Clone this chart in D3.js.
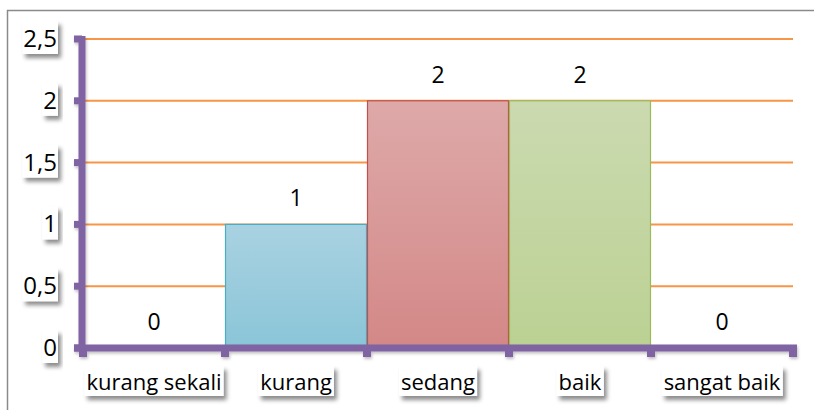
<!DOCTYPE html>
<html>
<head>
<meta charset="utf-8">
<script src="https://cdn.jsdelivr.net/npm/d3@7"></script>
<style>
  body { margin: 0; background: #fff; }
  text { font-family: "Open Sans", sans-serif; fill: #000; }
</style>
</head>
<body>
<div id="chart"></div>
<script>
// data
var categories = ["kurang sekali", "kurang", "sedang", "baik", "sangat baik"];
var values = [0, 1, 2, 2, 0];
var yTicks = [0, 0.5, 1, 1.5, 2, 2.5];
var yTickLabels = ["0", "0,5", "1", "1,5", "2", "2,5"];

// office-like palette per bar: [top, bottom, stroke]
var palette = [
  ["#a9d2e1", "#8ac5d8", "#4bacc6"],
  ["#a9d2e1", "#8ac5d8", "#4bacc6"],
  ["#dea9a9", "#d38887", "#c0504d"],
  ["#cbdab0", "#bbd193", "#9bbb59"],
  ["#cbdab0", "#bbd193", "#9bbb59"]
];

var W = 814, H = 410;
var purple = "#8064a2";

var svg = d3.select("#chart").append("svg")
  .attr("width", W)
  .attr("height", H);

var defs = svg.append("defs");
var shadow = defs.append("filter").attr("id", "shadow")
  .attr("x", "-20%").attr("y", "-20%").attr("width", "150%").attr("height", "160%");
shadow.append("feDropShadow")
  .attr("dx", 3).attr("dy", 4).attr("stdDeviation", 2)
  .attr("flood-color", "#000").attr("flood-opacity", 0.45);

var axShadow = defs.append("filter").attr("id", "axshadow")
  .attr("x", "-5%").attr("y", "-5%").attr("width", "110%").attr("height", "110%");
axShadow.append("feDropShadow")
  .attr("dx", 1).attr("dy", 2).attr("stdDeviation", 1.5)
  .attr("flood-color", "#000").attr("flood-opacity", 0.25);

palette.forEach(function(p, i) {
  var g = defs.append("linearGradient").attr("id", "grad" + i)
    .attr("x1", 0).attr("y1", 0).attr("x2", 0).attr("y2", 1);
  g.append("stop").attr("offset", "0%").attr("stop-color", p[0]);
  g.append("stop").attr("offset", "100%").attr("stop-color", p[1]);
});

// outer chart border
svg.append("rect")
  .attr("x", 7.5).attr("y", 10.5)
  .attr("width", 830).attr("height", 430)
  .attr("fill", "none")
  .attr("stroke", "#8a8a8a")
  .attr("stroke-width", 1.5);

var x = d3.scaleBand()
  .domain(categories)
  .range([83, 793])
  .padding(0);

var y = d3.scaleLinear()
  .domain([0, 2.5])
  .range([348, 39]);

// gridlines
svg.append("g")
  .selectAll("line")
  .data(yTicks.filter(function(d) { return d > 0; }))
  .enter().append("line")
    .attr("x1", 84).attr("x2", 793)
    .attr("y1", function(d) { return y(d); })
    .attr("y2", function(d) { return y(d); })
    .attr("stroke", "#f79646")
    .attr("stroke-width", 2);

// bars
svg.append("g")
  .selectAll("rect")
  .data(values)
  .enter().append("rect")
    .attr("x", function(d, i) { return x(categories[i]) + 0.5; })
    .attr("y", function(d) { return y(d); })
    .attr("width", x.bandwidth() - 1)
    .attr("height", function(d) { return y(0) - y(d); })
    .attr("fill", function(d, i) { return "url(#grad" + i + ")"; })
    .attr("stroke", function(d, i) { return palette[i][2]; })
    .attr("stroke-width", 1.2);

// value labels
svg.append("g")
  .selectAll("text")
  .data(values)
  .enter().append("text")
    .attr("x", function(d, i) { return x(categories[i]) + x.bandwidth() / 2; })
    .attr("y", function(d) { return y(d) - 18; })
    .attr("text-anchor", "middle")
    .style("font-size", "23px")
    .text(function(d) { return d; });

// axes (thick purple lines with small square ticks)
var axes = svg.append("g").attr("filter", "url(#axshadow)");

axes.append("line")
  .attr("x1", 82).attr("x2", 82)
  .attr("y1", y(2.5) - 3).attr("y2", y(0) + 3)
  .attr("stroke", purple).attr("stroke-width", 7);

axes.selectAll(".ytick")
  .data(yTicks)
  .enter().append("rect")
    .attr("class", "ytick")
    .attr("x", 74)
    .attr("y", function(d) { return y(d) - 3.5; })
    .attr("width", 8).attr("height", 7)
    .attr("fill", purple);

axes.append("line")
  .attr("x1", 74).attr("x2", 797)
  .attr("y1", y(0)).attr("y2", y(0))
  .attr("stroke", purple).attr("stroke-width", 7);

var xTickPos = categories.map(function(c) { return x(c); }).concat([x.range()[1]]);
axes.selectAll(".xtick")
  .data(xTickPos)
  .enter().append("rect")
    .attr("class", "xtick")
    .attr("x", function(d) { return d - 4; })
    .attr("y", y(0))
    .attr("width", 8).attr("height", 9)
    .attr("fill", purple);

// label with a white box and drop shadow
function boxedLabel(parent, tx, ty, anchor, size, str, padX) {
  var g = parent.append("g");
  var box = g.append("rect").attr("fill", "#fff").attr("filter", "url(#shadow)");
  var t = g.append("text")
    .attr("x", tx).attr("y", ty)
    .attr("text-anchor", anchor)
    .style("font-size", size + "px")
    .text(str);
  var b = t.node().getBBox();
  box.attr("x", b.x - padX).attr("y", b.y)
    .attr("width", b.width + padX * 2).attr("height", b.height);
}

var yLabels = svg.append("g");
yTicks.forEach(function(d, i) {
  boxedLabel(yLabels, 57, y(d) + 8, "end", 24, yTickLabels[i], 1);
});

var xLabels = svg.append("g");
categories.forEach(function(c) {
  boxedLabel(xLabels, x(c) + x.bandwidth() / 2, 390, "middle", 22, c, 2);
});
</script>
</body>
</html>
